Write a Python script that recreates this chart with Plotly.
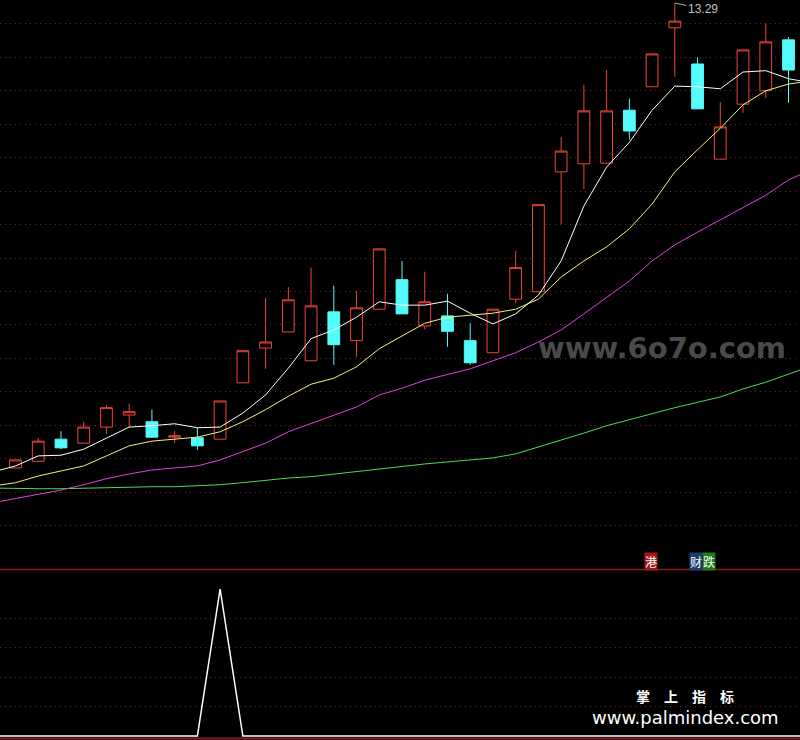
import plotly.graph_objects as go

# ---- price data (one bar per trading day, index 0 is partly off-screen) ----
bars = list(range(36))
opens  = [6.47, 6.35, 6.45, 6.78, 6.72, 6.96, 7.14, 7.04, 6.81, 6.80,
          6.78, 7.62, 8.14, 8.38, 7.95, 8.68, 8.25, 8.72, 9.16, 8.47,
          8.62, 8.25, 8.07, 8.87, 8.98, 10.77, 10.89, 10.90, 11.69, 12.04,
          12.92, 12.38, 10.96, 11.78, 11.98, 12.74]
highs  = [6.50, 6.47, 6.80, 6.90, 7.04, 7.29, 7.31, 7.22, 6.90, 6.95,
          7.35, 8.10, 8.89, 9.05, 9.34, 9.07, 8.99, 9.62, 9.44, 9.28,
          8.95, 8.51, 8.72, 9.59, 10.28, 11.29, 12.07, 12.29, 11.86, 12.53,
          13.29, 12.48, 11.81, 12.59, 12.98, 12.78]
lows   = [6.34, 6.35, 6.44, 6.63, 6.72, 6.86, 6.96, 6.80, 6.72, 6.62,
          6.78, 7.62, 7.83, 8.38, 7.95, 7.89, 8.01, 8.72, 8.65, 8.42,
          8.16, 7.89, 8.07, 8.81, 8.98, 9.99, 10.51, 10.90, 11.25, 12.04,
          12.19, 11.71, 10.96, 11.65, 11.87, 11.80]
closes = [6.37, 6.47, 6.75, 6.65, 6.96, 7.25, 7.19, 6.81, 6.83, 6.68,
          7.35, 8.10, 8.23, 8.86, 8.77, 8.19, 8.74, 9.62, 8.65, 8.83,
          8.39, 7.92, 8.72, 9.34, 10.28, 11.08, 11.68, 11.68, 11.38, 12.53,
          13.02, 11.71, 11.44, 12.59, 12.71, 12.29]

# ---- moving averages (one extra value for the bar just beyond the right edge) ----
ma_bars = list(range(37))
ma5  = [6.29, 6.38, 6.53, 6.54, 6.63, 6.80, 6.96, 6.98, 7.01, 6.95,
        6.96, 7.17, 7.44, 7.84, 8.28, 8.41, 8.60, 8.83, 8.78, 8.78,
        8.84, 8.66, 8.50, 8.65, 8.93, 9.44, 10.26, 10.84, 11.21, 11.69,
        12.05, 12.04, 12.01, 12.26, 12.28, 12.16, 12.10]
ma10 = [6.08, 6.13, 6.23, 6.31, 6.38, 6.53, 6.68, 6.75, 6.78, 6.81,
        6.89, 7.04, 7.22, 7.42, 7.60, 7.69, 7.86, 8.13, 8.32, 8.51,
        8.60, 8.63, 8.66, 8.72, 8.87, 9.20, 9.44, 9.65, 9.92, 10.29,
        10.77, 11.10, 11.42, 11.77, 11.98, 12.08, 12.13]
ma20 = [5.83, 5.89, 5.96, 6.02, 6.10, 6.19, 6.26, 6.32, 6.35, 6.38,
        6.47, 6.60, 6.72, 6.89, 7.01, 7.14, 7.26, 7.44, 7.54, 7.66,
        7.75, 7.83, 7.95, 8.07, 8.23, 8.41, 8.65, 8.89, 9.14, 9.44,
        9.68, 9.87, 10.05, 10.23, 10.42, 10.65, 10.80]
ma60 = [6.05, 6.04, 6.04, 6.04, 6.05, 6.05, 6.07, 6.07, 6.07, 6.08,
        6.10, 6.13, 6.17, 6.20, 6.22, 6.26, 6.29, 6.33, 6.37, 6.41,
        6.44, 6.47, 6.50, 6.56, 6.66, 6.77, 6.87, 6.98, 7.07, 7.17,
        7.25, 7.33, 7.41, 7.53, 7.63, 7.75, 7.87]

# ---- lower indicator panel ----
signal = [0, 0, 0, 0, 0, 0, 0, 0, 0, 0,
          100, 0, 0, 0, 0, 0, 0, 0, 0, 0,
          0, 0, 0, 0, 0, 0, 0, 0, 0, 0,
          0, 0, 0, 0, 0, 0, 0]

price_grid = [12.984, 12.484, 11.984, 11.484, 10.984, 10.484, 9.984, 9.484,
              8.984, 8.484, 7.984, 7.484, 6.984, 6.484, 5.984, 5.484]
signal_grid = [20, 40, 60, 80]

UP = "#ee4438"
DOWN = "#54fcfc"
GRID = "#7c2626"
FRAME = "#8e1c1c"

fig = go.Figure()

fig.add_trace(go.Candlestick(
    x=bars, open=opens, high=highs, low=lows, close=closes,
    increasing=dict(line=dict(color=UP, width=1), fillcolor="#000000"),
    decreasing=dict(line=dict(color=DOWN, width=1), fillcolor=DOWN),
    whiskerwidth=0, xaxis="x", yaxis="y", hoverinfo="skip",
))

for vals, col in [(ma60, "#4fdc4f"), (ma20, "#e040e0"),
                  (ma10, "#f2f27a"), (ma5, "#ffffff")]:
    fig.add_trace(go.Scatter(x=ma_bars, y=vals, mode="lines",
                             line=dict(color=col, width=1),
                             xaxis="x", yaxis="y", hoverinfo="skip"))

fig.add_trace(go.Scatter(x=ma_bars, y=signal, mode="lines",
                         line=dict(color="#ffffff", width=1.5),
                         xaxis="x2", yaxis="y2", hoverinfo="skip"))

top_lo = 0.2311
fig.update_layout(
    width=800, height=740,
    margin=dict(l=0, r=0, t=0, b=0),
    paper_bgcolor="#000000", plot_bgcolor="#000000",
    showlegend=False, hovermode=False, dragmode=False,
    boxgap=0.26,
    xaxis=dict(range=[0.318, 35.506], visible=False, domain=[0, 1],
               anchor="y", rangeslider=dict(visible=False)),
    xaxis2=dict(range=[0.318, 35.506], visible=False, domain=[0, 1],
                anchor="y2", matches="x"),
    yaxis=dict(domain=[top_lo, 1], range=[4.842, 13.335],
               tickvals=price_grid, showticklabels=False,
               showgrid=True, gridcolor=GRID, griddash="1px,4px",
               gridwidth=1, zeroline=False, showline=False),
    yaxis2=dict(domain=[0.0027, 0.2297], range=[-1.36, 112.9],
                tickvals=signal_grid, showticklabels=False,
                showgrid=True, gridcolor=GRID, griddash="1px,4px",
                gridwidth=1, zeroline=False, showline=False),
)

fig.add_shape(type="line", xref="paper", yref="paper", x0=0, x1=1,
              y0=(740 - 569.5) / 740, y1=(740 - 569.5) / 740,
              line=dict(color=FRAME, width=1.5))
fig.add_shape(type="line", xref="paper", yref="paper", x0=0, x1=1,
              y0=(740 - 738.5) / 740, y1=(740 - 738.5) / 740,
              line=dict(color=FRAME, width=2))

# max price label
fig.add_annotation(x=30, y=13.29, xref="x", yref="y", text="13.29",
                   showarrow=True, arrowhead=0, arrowwidth=1,
                   arrowcolor="#b0b0b0", ax=28, ay=6,
                   font=dict(family="Liberation Sans", size=12, color="#c0c0c0"))

# signal tags
tags = [("港", 650.5, "#a01616"), ("财", 696, "#1c3c6c"), ("跌", 708.5, "#1c7a1c")]
for txt, px, bg in tags:
    fig.add_annotation(x=px / 800, y=(740 - 561.5) / 740, xref="paper", yref="paper",
                       xanchor="center", yanchor="middle",
                       text=txt, showarrow=False, bgcolor=bg, borderpad=0,
                       font=dict(family="Noto Sans CJK SC", size=12, color="#ffffff"))

# watermarks
fig.add_annotation(x=661.5 / 800, y=(740 - 348) / 740, xref="paper", yref="paper",
                   xanchor="center", yanchor="middle",
                   text="<b>www.6o7o.com</b>", showarrow=False,
                   font=dict(family="DejaVu Sans", size=29, color="#4a4a4a"))
fig.add_annotation(x=685 / 800, y=(740 - 696) / 740, xref="paper", yref="paper",
                   xanchor="center", yanchor="middle",
                   text="<b>掌　上　指　标</b>", showarrow=False,
                   font=dict(family="Noto Sans CJK SC", size=14, color="#ffffff"))
fig.add_annotation(x=685 / 800, y=(740 - 717) / 740, xref="paper", yref="paper",
                   xanchor="center", yanchor="middle",
                   text="www.palmindex.com", showarrow=False,
                   font=dict(family="DejaVu Sans", size=18, color="#ffffff"))

fig.write_html("out.html", config={"displayModeBar": False, "staticPlot": True},
               post_script="document.body.style.margin='0';document.body.style.overflow='hidden';")
